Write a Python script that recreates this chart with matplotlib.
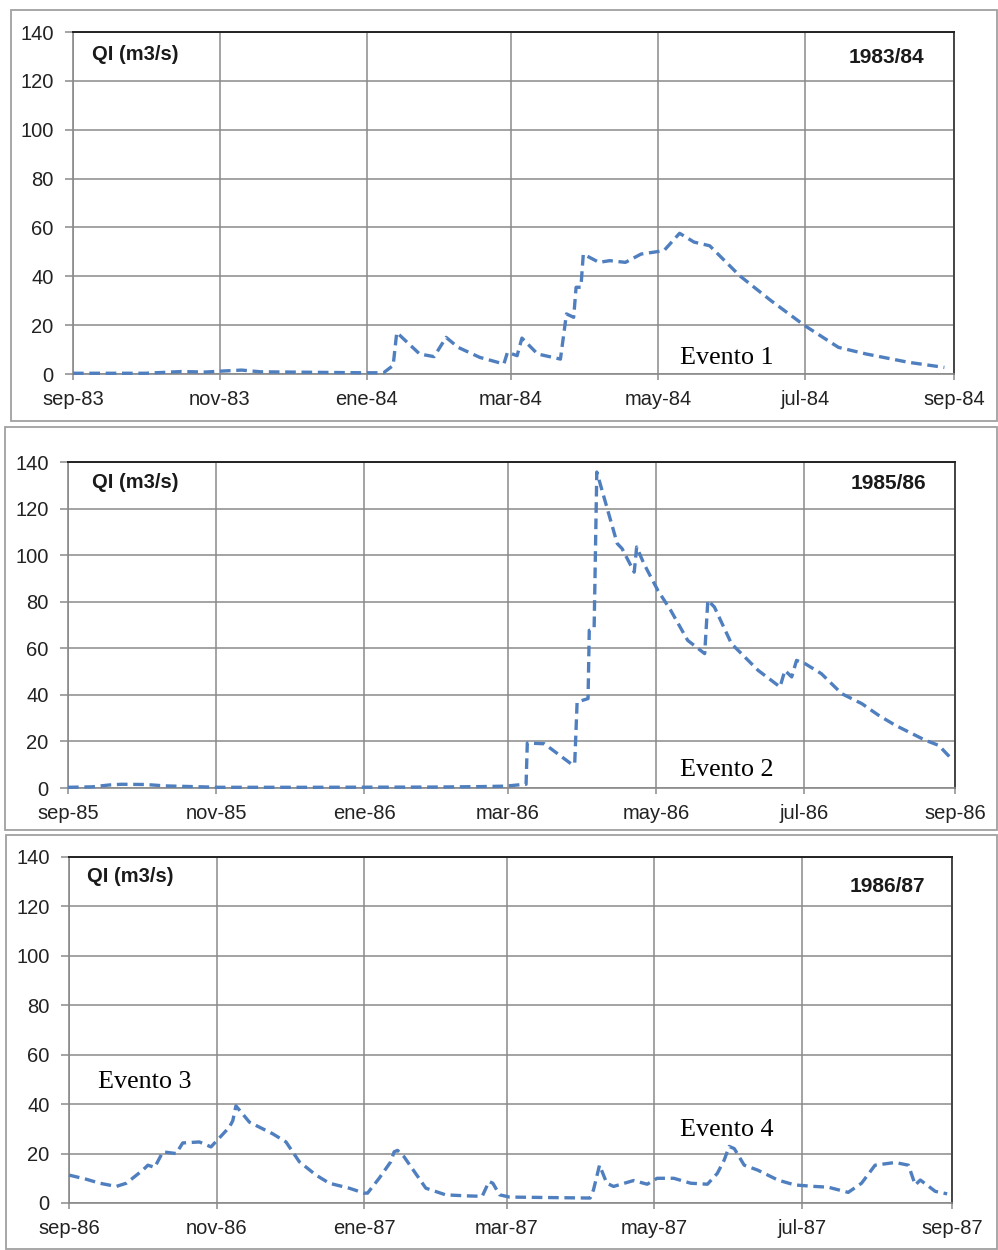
import numpy as np
import pandas as pd
import matplotlib
matplotlib.use("Agg")
import matplotlib.pyplot as plt
import matplotlib.dates as mdates
from matplotlib.patches import Rectangle

# ---------------- data ----------------
# days counted from 1 September of each hydrological year
start_1 = "1983-09-01"
days_1 = [0, 30, 45, 55, 62, 70, 78, 100, 120, 129, 133, 134.5, 144, 150, 155, 160,
          169, 179, 180.5, 184.5, 186.5, 193, 202.5, 205, 208, 209, 211, 212, 218.5,
          223, 229.5, 236, 245.5, 252, 258, 264.5, 277, 290, 304, 318, 329.5, 347, 362]
q_1 = [0.3, 0.3, 1.0, 0.8, 1.2, 1.6, 0.9, 0.7, 0.5, 0.5, 3.5, 17.0, 8.2, 7.1, 15.0, 10.9,
       6.8, 4.1, 8.9, 7.5, 14.7, 8.2, 6.1, 24.6, 23.2, 35.5, 35.5, 49.1, 45.7,
       46.4, 45.7, 49.1, 50.5, 57.6, 54.0, 52.5, 40.2, 30.0, 19.8, 10.9, 8.2, 4.8, 2.7]
ticks_1 = ["sep-83", "nov-83", "ene-84", "mar-84", "may-84", "jul-84", "sep-84"]
year_1 = "1983/84"

start_2 = "1985-09-01"
days_2 = [0, 10, 17, 22, 32, 40, 55, 62, 100, 150, 170, 180, 186, 188.5, 189, 196, 207,
          208.5, 209.5, 214, 214.5, 216.5, 217.6, 226, 228, 233, 234, 237, 242.7, 248,
          255, 262, 263.3, 266, 273, 284, 293, 295, 297.8, 299.8, 303.3, 310, 318.4,
          326.7, 333.6, 340.5, 352.8, 358.3, 363.5]
q_2 = [0.3, 0.5, 1.3, 1.6, 1.5, 0.9, 0.5, 0.3, 0.3, 0.4, 0.6, 0.8, 1.4, 1.6, 19.3, 19.0, 10.4,
       10.2, 36.9, 38.4, 67.7, 68.4, 135.7, 105.0, 102.8, 92.7, 103.5, 96.3, 84.9, 76.3,
       63.4, 57.7, 80.6, 77.7, 62.0, 50.5, 43.4, 50.5, 47.7, 54.8, 53.4, 49.1, 40.5,
       36.2, 31.2, 26.9, 20.5, 18.3, 12.6]
ticks_2 = ["sep-85", "nov-85", "ene-86", "mar-86", "may-86", "jul-86", "sep-86"]
year_2 = "1985/86"

start_3 = "1986-09-01"
days_3 = [0, 7.2, 12.7, 19.5, 23.7, 30.5, 32.6, 35.4, 38.8, 44.3, 47, 53.9, 58.7, 66.3,
          67.7, 69, 74.6, 84.2, 89.7, 95.2, 102.1, 107.6, 115.8, 122, 123.4, 128.2, 133,
          134.4, 135.8, 138.5, 147.5, 155.7, 164, 170.8, 173.6, 175.2, 178, 182.1, 215.4,
          216.8, 219.3, 222.3, 225.1, 233.4, 239, 243.1, 250, 257, 263.9, 268, 270.8,
          272.9, 275, 279.1, 284.7, 293, 300, 308.2, 313.8, 322.1, 327.6, 333.2, 341.5,
          347, 349.8, 351.9, 358.1, 363]
q_3 = [11.3, 9.6, 8.0, 6.7, 8.0, 13.3, 15.3, 14.4, 20.7, 20.0, 24.3, 24.7, 22.7, 30.7,
       33.3, 39.3, 32.7, 28.0, 24.7, 16.7, 11.3, 8.0, 6.0, 4.0, 4.0, 10.0, 16.7,
       20.7, 21.3, 18.7, 6.0, 3.3, 2.9, 2.7, 8.7, 8.0, 3.3, 2.4, 2.0,
       5.3, 15.3, 8.0, 6.7, 9.1, 7.6, 10.0, 10.0, 8.0, 7.6, 12.0, 17.3,
       22.9, 22.0, 15.3, 13.3, 9.3, 7.3, 6.7, 6.4, 4.3, 8.0, 15.3, 16.4,
       15.3, 7.3, 9.3, 4.7, 3.7]
ticks_3 = ["sep-86", "nov-86", "ene-87", "mar-87", "may-87", "jul-87", "sep-87"]
year_3 = "1986/87"

events = ["Evento 1", "Evento 2", "Evento 3", "Evento 4"]
y_label = "QI (m3/s)"
y_ticks = [0, 20, 40, 60, 80, 100, 120, 140]

# ---------------- figure ----------------
W, H = 998, 1250
fig = plt.figure(figsize=(W / 100, H / 100), dpi=100)
fig.patch.set_facecolor("white")

def fx(px):
    return px / W

def fy(py):
    return 1 - py / H

LINE_C = "#4F7FBF"
GRID_C = "#8a8a8a"
BOX_C = "#a0a0a0"

# panel outer boxes (left, top, right, bottom in pixels)
boxes = [(11, 10, 997, 421), (5, 427, 997, 830), (6, 835, 997, 1249)]
for (l, t, r, b) in boxes:
    fig.patches.append(Rectangle((fx(l), fy(b)), fx(r) - fx(l), fy(t) - fy(b),
                                 transform=fig.transFigure, fill=False,
                                 edgecolor=BOX_C, lw=1.3, zorder=0))

# axes rectangles in pixels (left, top, right, bottom)
ax_px = [(73, 32, 954, 374), (68, 462, 955, 788), (69, 857, 952, 1203)]
panels = [(start_1, days_1, q_1, ticks_1, year_1),
          (start_2, days_2, q_2, ticks_2, year_2),
          (start_3, days_3, q_3, ticks_3, year_3)]

axes = []
for (l, t, r, b), (start, days, q, tlabels, yr) in zip(ax_px, panels):
    ax = fig.add_axes([fx(l), fy(b), fx(r) - fx(l), fy(t) - fy(b)])
    axes.append(ax)
    t0 = pd.Timestamp(start)
    x = mdates.date2num(t0 + pd.to_timedelta(np.array(days, dtype=float), unit="D"))
    ax.plot(x, q, color=LINE_C, lw=2.4, linestyle=(0, (3.2, 1.7)),
            solid_capstyle="butt", dash_capstyle="butt", zorder=3, clip_on=False)
    tick_dates = pd.date_range(t0, periods=len(tlabels), freq="2MS")
    tpos = mdates.date2num(tick_dates)
    ax.set_xlim(tpos[0], tpos[-1])
    ax.set_ylim(0, 140)
    ax.set_xticks(tpos)
    ax.set_xticklabels(tlabels)
    ax.set_yticks(y_ticks)
    ax.set_yticklabels([str(v) for v in y_ticks])
    ax.grid(True, color=GRID_C, lw=1.1)
    ax.set_axisbelow(True)
    for s in ["left", "bottom"]:
        ax.spines[s].set_color(GRID_C)
        ax.spines[s].set_linewidth(1.2)
    ax.spines["top"].set_color("#222222")
    ax.spines["top"].set_linewidth(1.4)
    ax.spines["right"].set_color("#444444")
    ax.spines["right"].set_linewidth(1.4)
    ax.tick_params(axis="y", direction="out", length=6, width=1.1, color=GRID_C,
                   pad=8, labelsize=14.5, labelcolor="#222222")
    ax.tick_params(axis="x", direction="out", length=4.5, width=1.1, color=GRID_C,
                   pad=7, labelsize=14.5, labelcolor="#222222")
    for lab in ax.get_xticklabels() + ax.get_yticklabels():
        lab.set_fontfamily("Liberation Sans")

# labels inside panels (left x, baseline y in px)
ql_pos = [(92, 60), (92, 488), (87, 882)]
yr_pos = [(924, 63), (926, 489), (925, 892)]
for (qx, qy), (yx, yy), (_, _, _, _, yr) in zip(ql_pos, yr_pos, panels):
    fig.text(fx(qx), fy(qy), y_label, fontsize=14.5, fontweight="bold",
             family="Liberation Sans", ha="left", va="baseline", color="#1a1a1a")
    fig.text(fx(yx), fy(yy), yr, fontsize=15, fontweight="bold",
             family="Liberation Sans", ha="right", va="baseline", color="#1a1a1a")

ev_pos = [(680, 364), (680, 776), (98, 1088), (680, 1136)]
for (ex, ey), ev in zip(ev_pos, events):
    fig.text(fx(ex), fy(ey), ev, fontsize=18.8, family="Liberation Serif",
             ha="left", va="baseline", color="black")

fig.savefig("out.png", dpi=100, facecolor="white")
